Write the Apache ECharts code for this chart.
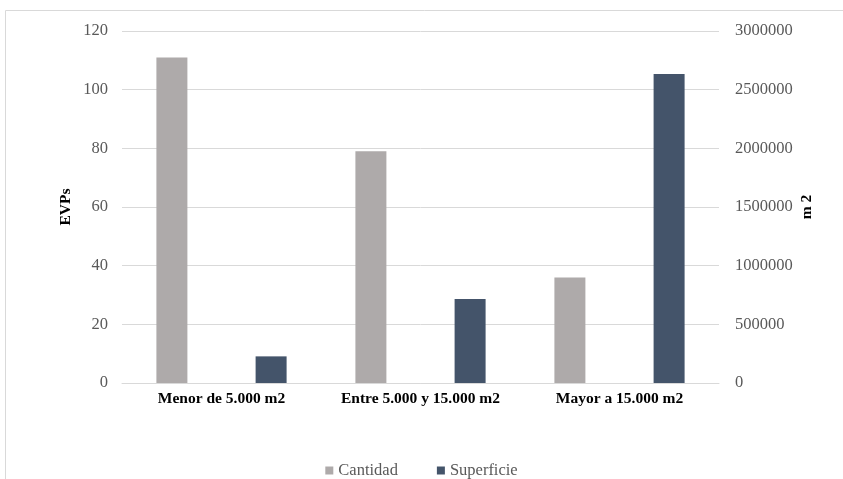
<!DOCTYPE html>
<html>
<head>
<meta charset="utf-8">
<script src="https://cdn.jsdelivr.net/npm/echarts@6/dist/echarts.min.js"></script>
<style>
	html, body { margin: 0; padding: 0; background: #fff; }
	#chart { width: 843px; height: 479px; }
</style>
</head>
<body>
<div id="chart"></div>
<script type="text/javascript">
	// datos del grafico
	var categorias = ['Menor de 5.000 m2', 'Entre 5.000 y 15.000 m2', 'Mayor a 15.000 m2'];
	var cantidad = [111, 79, 36];
	var superficie = [227000, 715000, 2633000];

	var myChart = echarts.init(document.getElementById('chart'));
	var fuente = '"Liberation Serif", "Times New Roman", serif';

	myChart.setOption({
		animation: false,
		textStyle: { fontFamily: fuente },
		graphic: [{
			type: 'rect',
			shape: { x: 5.5, y: 10.5, width: 900, height: 600 },
			style: { fill: 'none', stroke: '#D9D9D9', lineWidth: 1 }
		}],
		grid: { left: 122, right: 124, top: 31, bottom: 96 },
		legend: {
			top: 457,
			left: 'center',
			icon: 'rect',
			itemWidth: 8,
			itemHeight: 8,
			itemGap: 39,
			textStyle: { fontFamily: fuente, fontSize: 16.5, color: '#595959' },
			data: ['Cantidad', 'Superficie']
		},
		xAxis: {
			type: 'category',
			data: categorias,
			axisTick: { show: false },
			axisLine: { lineStyle: { color: '#D9D9D9' } },
			axisLabel: { interval: 0, margin: 8, fontFamily: fuente, fontSize: 15.5, fontWeight: 'bold', color: '#000' }
		},
		yAxis: [{
			type: 'value',
			min: 0,
			max: 120,
			interval: 20,
			name: 'EVPs',
			nameLocation: 'middle',
			nameGap: 48,
			nameMoveOverlap: false,
			nameTextStyle: { fontFamily: fuente, fontSize: 15.5, fontWeight: 'bold', color: '#000' },
			axisLabel: { margin: 14, fontFamily: fuente, fontSize: 16.5, color: '#595959' },
			splitLine: { lineStyle: { color: '#D9D9D9' } }
		}, {
			type: 'value',
			min: 0,
			max: 3000000,
			interval: 500000,
			name: 'm 2',
			nameLocation: 'middle',
			nameGap: 80,
			nameRotate: 90,
			nameMoveOverlap: false,
			nameTextStyle: { fontFamily: fuente, fontSize: 15.5, fontWeight: 'bold', color: '#000' },
			axisLabel: {
				margin: 16, fontFamily: fuente, fontSize: 16.5, color: '#595959',
				formatter: function (v) { return String(v); }
			},
			splitLine: { show: false }
		}],
		series: [{
			name: 'Cantidad',
			type: 'bar',
			yAxisIndex: 0,
			barWidth: 31,
			barGap: '220%',
			itemStyle: { color: '#AEAAAA' },
			data: cantidad
		}, {
			name: 'Superficie',
			type: 'bar',
			yAxisIndex: 1,
			barWidth: 31,
			itemStyle: { color: '#44546A' },
			data: superficie
		}]
	});
</script>
</body>
</html>
